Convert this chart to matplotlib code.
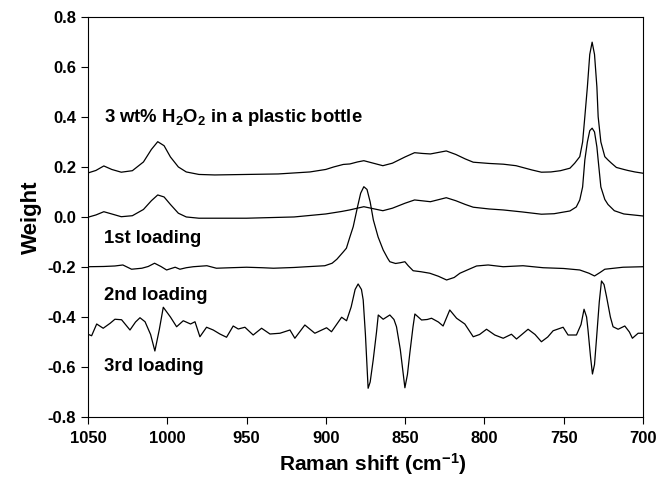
import matplotlib
matplotlib.use('Agg')
import matplotlib.pyplot as plt

plt.rcParams['font.family'] = ['Liberation Sans', 'DejaVu Sans']
plt.rcParams['font.weight'] = 'bold'
plt.rcParams['mathtext.fontset'] = 'custom'
plt.rcParams['mathtext.rm'] = 'Liberation Sans:bold'
plt.rcParams['mathtext.it'] = 'Liberation Sans:bold'
plt.rcParams['mathtext.bf'] = 'Liberation Sans:bold'
plt.rcParams['mathtext.default'] = 'rm'

# 3 wt% H2O2 in a plastic bottle
h2o2_x = [1050, 1045, 1040, 1035, 1029, 1022, 1015, 1010, 1006, 1002, 998, 993, 988, 980,
          970, 950, 930, 910, 900, 895, 889, 884.8, 880, 876, 870, 864, 858, 850, 844, 839,
          834, 829, 824, 818, 812, 807, 797, 788, 780, 770, 764, 758, 752, 746, 743, 739.8,
          738, 736.6, 735, 733.5, 732, 730.5, 729, 728.2, 726.5, 724, 722, 719.8, 716.7,
          712, 709.5, 705, 700]
h2o2_y = [0.176, 0.186, 0.204, 0.190, 0.179, 0.185, 0.220, 0.270, 0.301, 0.285, 0.240, 0.200,
          0.180, 0.170, 0.168, 0.170, 0.172, 0.180, 0.190, 0.200, 0.210, 0.212, 0.220, 0.225,
          0.215, 0.205, 0.215, 0.240, 0.257, 0.254, 0.252, 0.258, 0.264, 0.250, 0.232, 0.219,
          0.214, 0.211, 0.205, 0.188, 0.179, 0.180, 0.185, 0.195, 0.215, 0.241, 0.300, 0.401,
          0.520, 0.650, 0.699, 0.650, 0.520, 0.401, 0.300, 0.241, 0.228, 0.215, 0.198, 0.190,
          0.186, 0.180, 0.175]

# 1st loading
load1_x = [1050, 1045, 1040, 1035, 1029, 1022, 1015, 1010, 1006, 1002, 998, 993, 988, 980,
           950, 920, 900, 890, 885, 876, 870, 864, 858, 850, 844, 834, 824, 818, 812, 807,
           797, 788, 776, 764, 756, 746, 742, 739.8, 738, 736.6, 735, 733.5, 732, 730.5,
           729, 728.2, 726.5, 724, 722, 718, 712, 700]
load1_y = [-0.001, 0.008, 0.021, 0.012, 0.001, 0.005, 0.030, 0.065, 0.088, 0.080, 0.050, 0.015,
           0.000, -0.005, -0.005, 0.000, 0.012, 0.022, 0.028, 0.041, 0.033, 0.025, 0.035, 0.055,
           0.068, 0.061, 0.077, 0.065, 0.050, 0.039, 0.032, 0.028, 0.020, 0.011, 0.013, 0.024,
           0.040, 0.068, 0.120, 0.228, 0.300, 0.345, 0.355, 0.340, 0.280, 0.228, 0.120, 0.070,
           0.050, 0.025, 0.012, 0.004]

# 2nd loading
load2_x = [1050, 1040, 1033, 1028, 1022.5, 1016, 1012, 1008, 1004, 1000.4, 997, 995, 992, 988,
           983.6, 975, 969, 960, 950, 940, 933, 920, 912, 900.6, 896, 893, 889, 887, 884.8,
           882.7, 880, 878, 876, 874, 872, 870, 867, 863.8, 861, 859.6, 856, 853, 850.1, 848,
           844.9, 840, 834.4, 829, 823.8, 819, 815.4, 810, 804.9, 797.6, 788.1, 782, 775.6,
           762.9, 750, 739.8, 734, 730.5, 727, 724, 712.5, 700]
load2_y = [-0.199, -0.198, -0.196, -0.192, -0.209, -0.205, -0.198, -0.185, -0.198, -0.212,
           -0.205, -0.201, -0.209, -0.203, -0.199, -0.195, -0.205, -0.203, -0.201, -0.203,
           -0.205, -0.202, -0.199, -0.195, -0.185, -0.169, -0.140, -0.125, -0.080, -0.039,
           0.040, 0.095, 0.121, 0.110, 0.060, -0.012, -0.080, -0.132, -0.165, -0.179, -0.186,
           -0.183, -0.179, -0.195, -0.215, -0.219, -0.225, -0.237, -0.252, -0.242, -0.225,
           -0.210, -0.196, -0.192, -0.199, -0.197, -0.195, -0.203, -0.206, -0.212, -0.225,
           -0.236, -0.222, -0.209, -0.201, -0.199]

# 3rd loading
load3_x = [1050, 1047.7, 1044.5, 1040.4, 1036, 1033, 1028.8, 1023.5, 1020, 1017.2, 1014,
           1010.5, 1007.8, 1005, 1002.5, 998, 994.1, 989.9, 985.3, 982.5, 979.4, 975.2, 971,
           966.8, 962.6, 958.4, 955.2, 951, 945.8, 940.5, 935.2, 928.9, 922.6, 919.5, 913.2,
           906.9, 899.5, 896.4, 890, 886.9, 884, 881.5, 879.6, 877.5, 876.4, 875, 873.3, 872,
           870.1, 868, 866.9, 863.8, 859.6, 857, 855.4, 853, 850.1, 848.5, 847, 845, 843.8,
           839.6, 836, 833.3, 829, 826, 821.8, 817.5, 812.3, 807, 803, 798.6, 793.4, 788.1,
           782.9, 779.7, 772.4, 768, 764, 760, 756.6, 750.3, 747.2, 741.9, 739, 737.1, 735.5,
           734.6, 733, 731.8, 730.5, 729.3, 727.5, 726.1, 724.5, 722.9, 720.5, 718.8, 715.6,
           711.4, 708.5, 706.6, 703, 700]
load3_y = [-0.469, -0.475, -0.428, -0.445, -0.425, -0.409, -0.411, -0.452, -0.420, -0.403,
           -0.419, -0.470, -0.536, -0.450, -0.361, -0.400, -0.439, -0.415, -0.428, -0.419,
           -0.479, -0.441, -0.452, -0.468, -0.481, -0.436, -0.448, -0.441, -0.472, -0.445,
           -0.468, -0.465, -0.452, -0.485, -0.432, -0.465, -0.443, -0.459, -0.401, -0.415,
           -0.360, -0.290, -0.268, -0.290, -0.332, -0.470, -0.685, -0.660, -0.572, -0.460,
           -0.392, -0.409, -0.392, -0.410, -0.439, -0.530, -0.683, -0.630, -0.545, -0.440,
           -0.388, -0.412, -0.410, -0.405, -0.420, -0.436, -0.372, -0.405, -0.428, -0.479,
           -0.470, -0.449, -0.472, -0.485, -0.469, -0.488, -0.449, -0.470, -0.499, -0.480,
           -0.455, -0.441, -0.472, -0.472, -0.430, -0.369, -0.400, -0.452, -0.560, -0.628,
           -0.590, -0.492, -0.340, -0.256, -0.270, -0.319, -0.400, -0.439, -0.449, -0.436,
           -0.460, -0.485, -0.465, -0.465]

labels = [r'3 wt% H$_2$O$_2$ in a plastic bottle', '1st loading', '2nd loading', '3rd loading']
label_y = [0.396, -0.088, -0.316, -0.596]

fig = plt.figure(figsize=(6.58, 4.83), dpi=100)
ax = fig.add_axes([0.1337, 0.1366, 0.8433, 0.8284])

for xs, ys in [(h2o2_x, h2o2_y), (load1_x, load1_y), (load2_x, load2_y), (load3_x, load3_y)]:
    ax.plot(xs, ys, color='black', linewidth=0.9)

for txt, ty in zip(labels, label_y):
    ax.text(1040, ty, txt, fontsize=13.3, fontweight='bold', va='center', ha='left')

ax.set_xlim(1050, 700)
ax.set_ylim(-0.8, 0.8)
ax.set_xticks([1050, 1000, 950, 900, 850, 800, 750, 700])
ax.set_yticks([-0.8, -0.6, -0.4, -0.2, 0.0, 0.2, 0.4, 0.6, 0.8])
ax.set_yticklabels(['-0.8', '-0.6', '-0.4', '-0.2', '0.0', '0.2', '0.4', '0.6', '0.8'])
ax.tick_params(direction='out', length=5, width=0.8, labelsize=12, top=False, right=False)
ax.tick_params(axis='x', pad=5)
for lab in ax.get_xticklabels() + ax.get_yticklabels():
    lab.set_fontweight('bold')
ax.set_xlabel(r'Raman shift (cm$^{-1}$)', fontsize=15, fontweight='bold', x=0.513)
ax.set_ylabel('Weight', fontsize=16, fontweight='bold', labelpad=4)

fig.savefig('out.png', dpi=100)
